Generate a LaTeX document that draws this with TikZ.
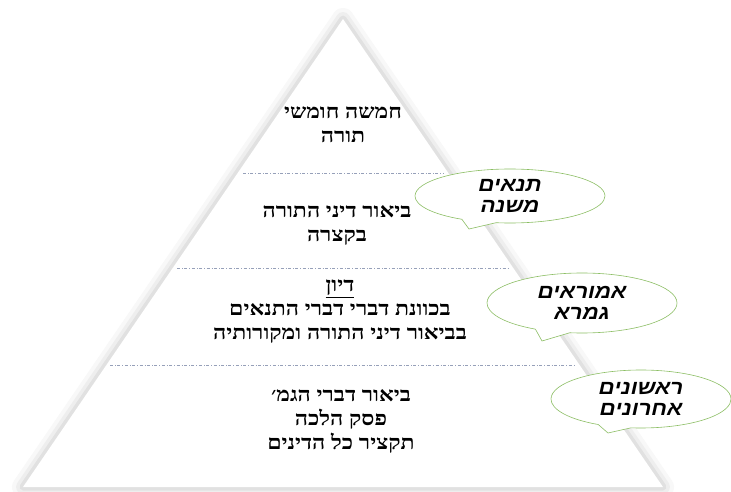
\documentclass[tikz,border=0pt]{standalone}
\usepackage{fontspec}
\setmainfont{Liberation Serif}
\newfontfamily\hebfont[Script=Hebrew,FakeStretch=1.15]{Liberation Serif}
\newfontfamily\handfont[Script=Hebrew,FakeStretch=1.12]{Liberation Sans}
\TeXXeTstate=1
\usepackage{tikz}
\usetikzlibrary{shapes.callouts}
\definecolor{bubblegreen}{RGB}{140,190,100}
\definecolor{dashgray}{RGB}{150,160,185}

\begin{document}
\begin{tikzpicture}[x=1pt,y=-1pt,font=\hebfont\bfseries\fontsize{20}{24}\selectfont]
\tikzstyle{level}=[align=center,text=black,inner sep=0pt]
\tikzstyle{divider}=[dashgray,dash dot,line width=0.6pt]
\tikzstyle{bubble}=[ellipse callout,draw=bubblegreen,fill=white,line width=0.6pt,
                    inner sep=0pt,align=center,callout pointer arc=22,
                    font=\handfont\bfseries\itshape\fontsize{20}{21}\selectfont]
\useasboundingbox (0,0) rectangle (731,492);
\coordinate (top) at (343,19);
\coordinate (bl) at (23,487);
\coordinate (br) at (663,487);
% soft shadow round the pyramid
\draw[gray,opacity=0.06,line width=22pt,line join=round] (top) -- (bl) -- (br) -- cycle;
\draw[gray,opacity=0.08,line width=14pt,line join=round] (top) -- (bl) -- (br) -- cycle;
\draw[gray,opacity=0.12,line width=7pt,line join=round] (top) -- (bl) -- (br) -- cycle;
\fill[white] (top) -- (bl) -- (br) -- cycle;
% dividers
\coordinate (d1l) at (243,173);
\coordinate (d1r) at (444,173);
\coordinate (d2l) at (177,268);
\coordinate (d2r) at (509,268);
\coordinate (d3l) at (110,365);
\coordinate (d3r) at (576,365);
\draw[divider] (d1l) -- (d1r);
\draw[divider] (d2l) -- (d2r);
\draw[divider] (d3l) -- (d3r);
% levels
\node[level] (t1) at (343,125) {\beginR חמשה חומשי\endR\\\beginR תורה\endR};
\node[level] (t2) at (337,225) {\beginR ביאור דיני התורה\endR\\\beginR בקצרה\endR};
\node[level] (t3) at (340,312) {\underline{\beginR דיון\endR}\\
  \beginR בכוונת דברי דברי התנאים\endR\\\beginR בביאור דיני התורה ומקורותיה\endR};
\node[level] (t4) at (341,421) {\beginR ביאור דברי הגמ׳\endR\\\beginR פסק הלכה\endR\\
  \beginR תקציר כל הדינים\endR};
% speech bubbles
\coordinate (p1) at (469,229);
\coordinate (p2) at (542,341);
\coordinate (p3) at (608,433);
\node[bubble,minimum width=190,minimum height=54,callout absolute pointer={(p1)}]
  (b1) at (510,196) {\beginR תנאים\endR\\\beginR משנה\endR};
\node[bubble,minimum width=190,minimum height=60,callout absolute pointer={(p2)}]
  (b2) at (582,303) {\beginR אמוראים\endR\\\beginR גמרא\endR};
\node[bubble,minimum width=180,minimum height=58,callout absolute pointer={(p3)}]
  (b3) at (641,399) {\beginR ראשונים\endR\\\beginR אחרונים\endR};
\end{tikzpicture}
\end{document}
